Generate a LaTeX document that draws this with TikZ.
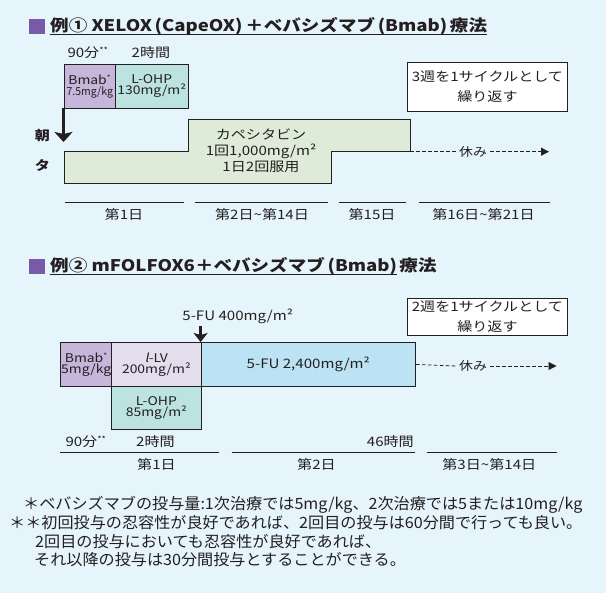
\documentclass[tikz,border=0pt]{standalone}
\usepackage{fontspec}
\setmainfont{Noto Sans CJK JP}[FakeStretch=1.16]
\newfontfamily\jpslant{Noto Sans CJK JP}[FakeStretch=1.16,FakeSlant=0.2]
\newfontfamily\jpnarrow{Noto Sans CJK JP}[FakeStretch=0.95]
\newfontfamily\jpnote{Noto Sans CJK JP}[FakeStretch=1.04]
\usetikzlibrary{arrows.meta}
\definecolor{bg}{HTML}{E6F4FB}
\definecolor{ink}{HTML}{231F20}
\definecolor{purp}{HTML}{7A5AA6}
\definecolor{bmabc}{HTML}{C6B6DA}
\definecolor{lohpc}{HTML}{BCE3E0}
\definecolor{capec}{HTML}{DFEBD9}
\definecolor{llvc}{HTML}{E4DDEE}
\definecolor{fuc}{HTML}{BCE3F4}
\tikzset{
  drugbox/.style={draw=ink, line width=0.9pt, inner sep=0pt, align=center, text=ink, anchor=north west},
  titletext/.style={anchor=base west, inner sep=0pt, text=ink, font=\fontsize{16}{18}\selectfont\bfseries},
  lbl/.style={inner sep=0pt, text=ink, font=\fontsize{13}{15}\selectfont},
  cyclebox/.style={draw=ink, line width=0.9pt, fill=white, inner sep=0pt, align=center, text=ink, anchor=north west, font=\fontsize{13}{20}\selectfont},
  dayline/.style={draw=ink, line width=0.8pt},
  restarrow/.style={draw=ink, line width=0.8pt, dash pattern=on 3.5pt off 2.5pt},
  bigarrow/.style={draw=ink, line width=3.5pt, -{Stealth[length=10pt,width=18pt,inset=2pt]}},
  note/.style={anchor=west, inner sep=0pt, text=ink, font=\jpnote\fontsize{15.5}{18}\selectfont},
}
\begin{document}
\begin{tikzpicture}[x=1pt,y=-1pt]
\fill[bg] (0,0) rectangle (606,593);
\useasboundingbox (0,0) rectangle (606,593);

% ===== Example 1 =====
\fill[purp] (29,19) rectangle (45,34);
\node[titletext] (t1) at (50,32) {例① XELOX\,(CapeOX)\,＋ベバシズマブ\,(Bmab)\,療法};
\draw[ink, line width=1pt] ([yshift=-3pt]t1.base west) -- ([yshift=-3pt]t1.base east);

\node[lbl] (min1) at (88,53) {90分\textsuperscript{\fontsize{8}{8}\selectfont **}};
\node[lbl] (hr1) at (151,53) {2時間};

\node[drugbox, fill=bmabc, minimum width=51pt, minimum height=44pt] (bmab1) at (63.8,64)
  {\fontsize{12}{14}\selectfont Bmab\textsuperscript{\fontsize{7}{7}\selectfont *}\\[-1pt]{\jpnarrow\fontsize{11}{13}\selectfont 7.5mg/kg}};
\node[drugbox, fill=lohpc, minimum width=73pt, minimum height=44pt] (lohp1) at (114.8,64)
  {\fontsize{12}{14}\selectfont L-OHP\\[-1pt]\fontsize{12}{14}\selectfont 130mg/m²};

\node[cyclebox, minimum width=160pt, minimum height=49pt] (cyc1) at (407,62) {3週を1サイクルとして\\繰り返す};

\coordinate (arr1s) at (63.5,108);
\coordinate (arr1e) at (63.5,142);
\draw[bigarrow] (arr1s) -- (arr1e);
\node[lbl, font=\fontsize{13}{16}\selectfont\bfseries] (asa) at (42.5,136) {朝};
\node[lbl, font=\fontsize{13}{16}\selectfont\bfseries] (yu) at (42.5,165) {タ};

\coordinate (c1) at (64.6,183);
\coordinate (c2) at (64.6,151.7);
\coordinate (c3) at (188,151.7);
\coordinate (c4) at (188,119);
\coordinate (c5) at (410.4,119);
\coordinate (c6) at (410.4,151.7);
\coordinate (c7) at (331.5,151.7);
\coordinate (c8) at (331.5,183);
\draw[ink, line width=0.9pt, fill=capec] (c1) -- (c2) -- (c3) -- (c4) -- (c5) -- (c6) -- (c7) -- (c8) -- cycle;
\node[lbl, align=center, font=\fontsize{13}{16}\selectfont] (cape) at (261,151) {カペシタビン\\1回1,000mg/m²\\1日2回服用};

\node[lbl, fill=bg, inner xsep=3pt, font=\fontsize{12}{14}\selectfont] (rest1) at (473,151.7) {休み};
\coordinate (tip1) at (549,151.7);
\draw[restarrow] (c6) -- (rest1.west);
\draw[restarrow, -{Triangle[length=8pt,width=8pt]}] (rest1.east) -- (tip1);

\coordinate (d1a) at (64.6,202); \coordinate (d1b) at (184.3,202);
\coordinate (d2a) at (194.8,202); \coordinate (d2b) at (328.1,202);
\coordinate (d3a) at (338.5,202); \coordinate (d3b) at (405.8,202);
\coordinate (d4a) at (418.5,202); \coordinate (d4b) at (549.6,202);
\draw[dayline] (d1a) -- (d1b);
\draw[dayline] (d2a) -- (d2b);
\draw[dayline] (d3a) -- (d3b);
\draw[dayline] (d4a) -- (d4b);
\node[lbl] (day1) at (124,215) {第1日};
\node[lbl] (day2) at (262,215) {第2日\textasciitilde 第14日};
\node[lbl] (day3) at (372,215) {第15日};
\node[lbl] (day4) at (483.5,215) {第16日\textasciitilde 第21日};

% ===== Example 2 =====
\fill[purp] (29,259) rectangle (45,274);
\node[titletext] (t2a) at (50,272) {例② mFOLFOX6＋ベバシズマブ\,(Bmab)};
\node[titletext, anchor=base west] (t2b) at ([xshift=2pt]t2a.base east) {療法};
\draw[ink, line width=1pt] ([yshift=-3pt]t2a.base west) -- ([yshift=-3pt]t2a.base east);

\node[cyclebox, minimum width=160pt, minimum height=37pt] (cyc2) at (407,298) {2週を1サイクルとして\\繰り返す};

\node[lbl] (bolus) at (237.7,316) {5-FU 400mg/m²};
\coordinate (arr2s) at (200.6,326);
\coordinate (arr2e) at (200.6,342);
\draw[ink, line width=2.8pt, -{Stealth[length=9pt,width=14pt,inset=2pt]}] (arr2s) -- (arr2e);

\node[drugbox, fill=bmabc, minimum width=51pt, minimum height=44pt] (bmab2) at (60.3,342)
  {\fontsize{12}{14}\selectfont Bmab\textsuperscript{\fontsize{7}{7}\selectfont *}\\[-1pt]\fontsize{12}{14}\selectfont 5mg/kg};
\node[drugbox, fill=llvc, minimum width=89.3pt, minimum height=44pt] (llv) at (111.3,342)
  {\fontsize{12}{14}\selectfont{\jpslant l}-LV\\[-1pt]\fontsize{12}{14}\selectfont 200mg/m²};
\node[drugbox, fill=fuc, minimum width=214.5pt, minimum height=44pt] (fu) at (200.6,342)
  {\fontsize{13}{14}\selectfont 5-FU 2,400mg/m²};
\node[drugbox, fill=lohpc, minimum width=89.3pt, minimum height=43pt] (lohp2) at (111.3,386)
  {\fontsize{12}{14}\selectfont L-OHP\\[-1pt]\fontsize{12}{14}\selectfont 85mg/m²};

\node[lbl, fill=bg, inner xsep=3pt, font=\fontsize{12}{14}\selectfont] (rest2) at (473,366) {休み};
\coordinate (tip2) at (556.5,366);
\draw[restarrow] (fu.east) -- (rest2.west);
\draw[restarrow, -{Triangle[length=8pt,width=8pt]}] (rest2.east) -- (tip2);

\node[lbl] (min2) at (86,442) {90分\textsuperscript{\fontsize{8}{8}\selectfont **}};
\node[lbl] (hr2) at (155.4,442) {2時間};
\node[lbl, anchor=east] (hr46) at (414,442) {46時間};

\coordinate (e1a) at (60.3,452);  \coordinate (e1b) at (219.1,452);
\coordinate (e2a) at (231.9,452); \coordinate (e2b) at (415.1,452);
\coordinate (e3a) at (426.7,452); \coordinate (e3b) at (556.5,452);
\draw[dayline] (e1a) -- (e1b);
\draw[dayline] (e2a) -- (e2b);
\draw[dayline] (e3a) -- (e3b);
\node[lbl] (dd1) at (156.5,465) {第1日};
\node[lbl] (dd2) at (316.5,465) {第2日};
\node[lbl] (dd3) at (489.3,465) {第3日\textasciitilde 第14日};

% ===== Notes =====
\node[note] (n1) at (23,505) {＊ベバシズマブの投与量:1次治療では5mg/kg、2次治療では5または10mg/kg};
\node[note] (n2) at (9,523) {＊＊初回投与の忍容性が良好であれば、2回目の投与は60分間で行っても良い。};
\node[note] (n3) at (35,542) {2回目の投与においても忍容性が良好であれば、};
\node[note] (n4) at (34,560) {それ以降の投与は30分間投与とすることができる。};
\end{tikzpicture}
\end{document}
